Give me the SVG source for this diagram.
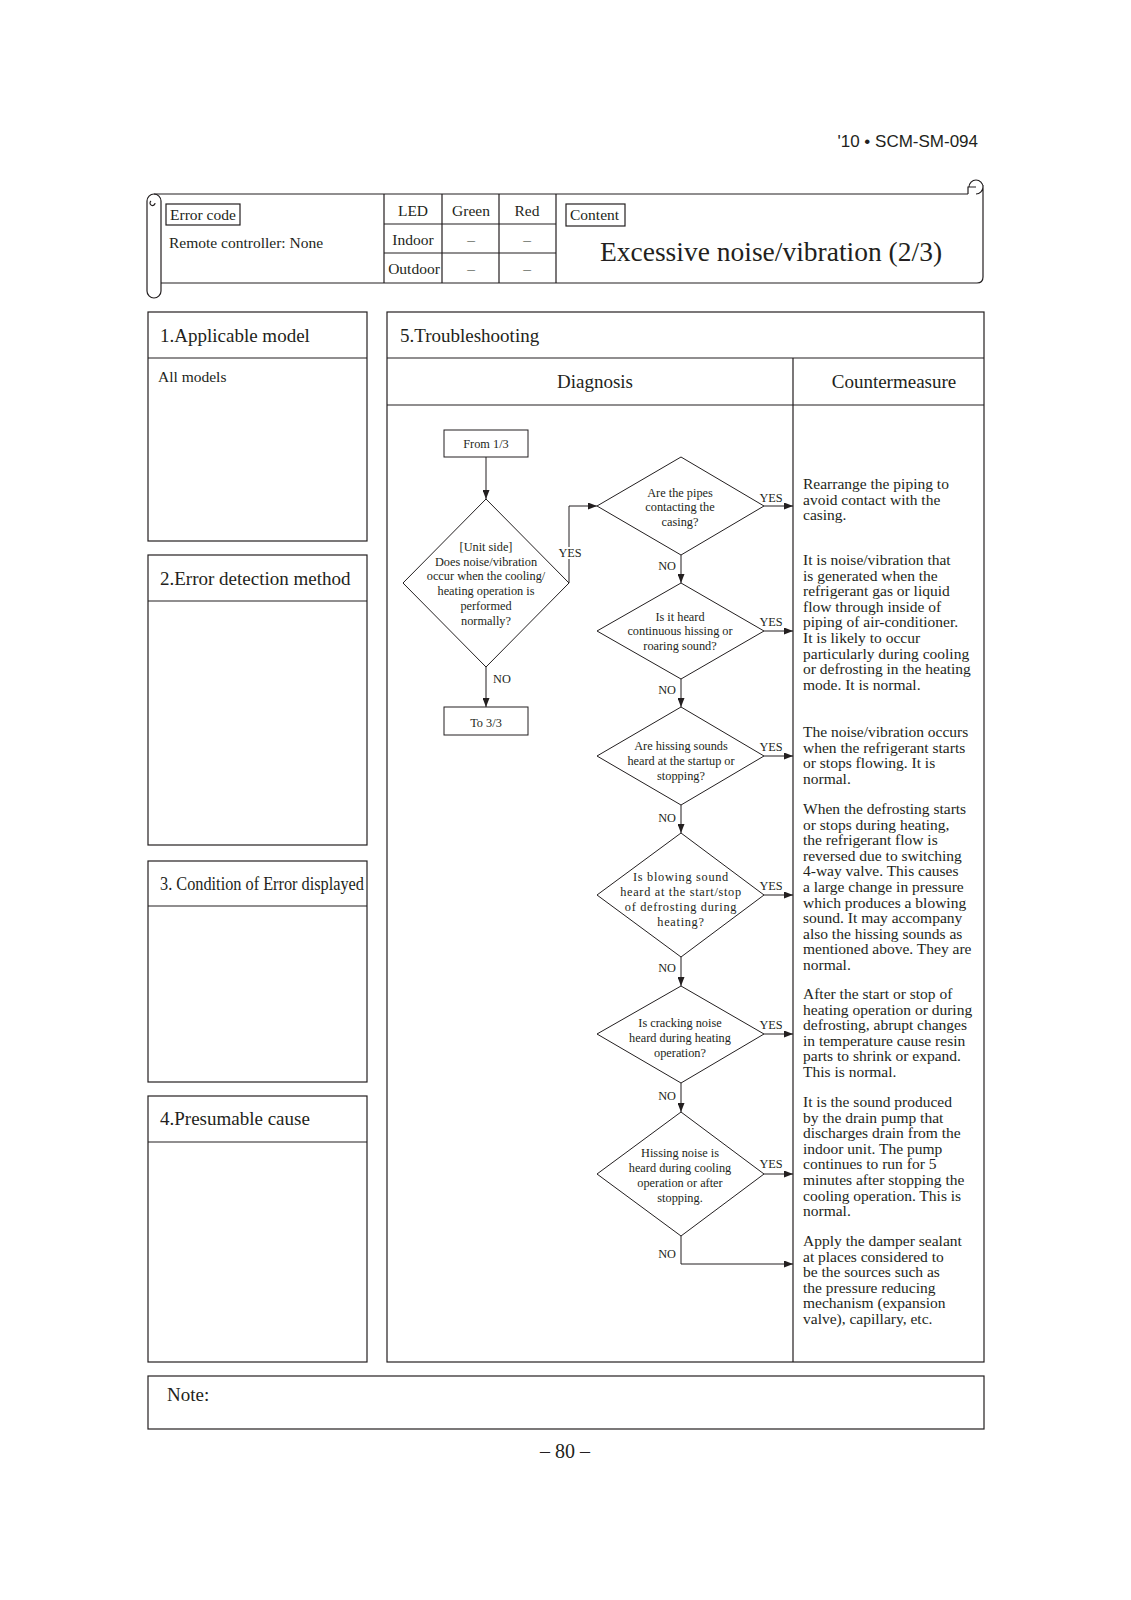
<svg xmlns="http://www.w3.org/2000/svg" width="1131" height="1600" viewBox="0 0 1131 1600">
<style>
.t{font-family:"Liberation Serif","Times New Roman",serif;fill:#231f20}
.s{font-family:"Liberation Sans",Arial,sans-serif;fill:#231f20}
.bx{fill:none;stroke:#231f20;stroke-width:1.2}
.fl{fill:none;stroke:#231f20;stroke-width:1}
.dt{font-size:12.3px;text-anchor:middle}
.cm{font-size:15.5px}
.h{font-size:19px}
.hd{font-size:15.5px}
.mid{text-anchor:middle}
.end{text-anchor:end}
.halo{paint-order:stroke;stroke:#fff;stroke-width:4}
</style>
<defs>
<marker id="ah" markerWidth="9" markerHeight="7" refX="9" refY="3.5" orient="auto" markerUnits="userSpaceOnUse"><path d="M0,0 L9,3.5 L0,7 z" fill="#231f20"/></marker>
</defs>
<rect width="1131" height="1600" fill="#fff"/>
<text class="s" x="978" y="147" font-size="17" text-anchor="end">'10 • SCM-SM-094</text>

<g id="header">
<path class="bx" d="M154 194 H968"/>
<path class="bx" d="M147 201 A7 7 0 0 1 161 201 M147 201 V291 A7 7 0 0 0 161 291 V201"/>
<path class="bx" d="M155 203 A2.5 2.5 0 1 1 151 201" />
<path class="bx" d="M968 194 V187 H976"/>
<path class="bx" d="M976 194 A7 7 0 1 0 969 187 M983 185 V277 Q983 283 977 283 H161"/>
<path class="bx" d="M384 194 V283 M442 194 V283 M499 194 V283 M556 194 V283 M384 224 H556 M384 253 H556"/>
<rect class="bx" x="166" y="204" width="74" height="21"/>
<rect class="bx" x="566" y="204" width="59" height="22"/>
<text class="t hd" x="170" y="220">Error code</text>
<text class="t hd" x="169" y="248">Remote controller:  None</text>
<text class="t hd mid" x="413" y="216">LED</text>
<text class="t hd mid" x="471" y="216">Green</text>
<text class="t hd mid" x="527" y="216">Red</text>
<text class="t hd mid" x="413" y="245">Indoor</text>
<text class="t hd mid" x="471" y="245">–</text>
<text class="t hd mid" x="527" y="245">–</text>
<text class="t hd mid" x="414" y="274">Outdoor</text>
<text class="t hd mid" x="471" y="274">–</text>
<text class="t hd mid" x="527" y="274">–</text>
<text class="t hd" x="570" y="220">Content</text>
<text class="t" x="771" y="261" font-size="27.5" text-anchor="middle">Excessive noise/vibration (2/3)</text>
</g>

<g id="panel1">
<rect class="bx" x="148" y="312" width="219" height="229"/>
<path class="bx" d="M148 358 H367"/>
<text class="t h" x="160" y="342">1.Applicable model</text>
<text class="t hd" x="158" y="382">All models</text>
</g>
<g id="panel2">
<rect class="bx" x="148" y="555" width="219" height="290"/>
<path class="bx" d="M148 601 H367"/>
<text class="t h" x="160" y="585">2.Error detection method</text>
</g>
<g id="panel3">
<rect class="bx" x="148" y="861" width="219" height="221"/>
<path class="bx" d="M148 906 H367"/>
<text class="t h" x="160" y="890" textLength="204" lengthAdjust="spacingAndGlyphs">3. Condition of Error displayed</text>
</g>
<g id="panel4">
<rect class="bx" x="148" y="1096" width="219" height="266"/>
<path class="bx" d="M148 1142 H367"/>
<text class="t h" x="160" y="1125">4.Presumable cause</text>
</g>
<g id="panel5">
<rect class="bx" x="387" y="312" width="597" height="1050"/>
<path class="bx" d="M387 358 H984 M387 405 H984 M793 358 V1362"/>
<text class="t h" x="400" y="342">5.Troubleshooting</text>
<text class="t h mid" x="595" y="388">Diagnosis</text>
<text class="t h mid" x="894" y="388">Countermeasure</text>
</g>
<g id="note">
<rect class="bx" x="148" y="1376" width="836" height="53"/>
<text class="t h" x="167" y="1401">Note:</text>
</g>
<text class="t mid" x="565" y="1458" font-size="20">– 80 –</text>

<g id="n-from">
<rect class="fl" x="444" y="430" width="84" height="27"/>
<text class="t dt" x="486" y="448">From 1/3</text>
</g>
<g id="n-to">
<rect class="fl" x="444" y="707" width="84" height="28"/>
<text class="t dt" x="486" y="727">To 3/3</text>
</g>
<g id="d1">
<polygon class="fl" points="486,499 569,583 486,667 403,583"/>
<text class="t dt"><tspan x="486" y="551">[Unit side]</tspan><tspan x="486" y="566">Does noise/vibration</tspan><tspan x="486" y="580">occur when the cooling/</tspan><tspan x="486" y="595">heating operation is</tspan><tspan x="486" y="610">performed</tspan><tspan x="486" y="625">normally?</tspan></text>
</g>
<g id="d2">
<polygon class="fl" points="681,457 764,506 681,555 597,506"/>
<text class="t dt"><tspan x="680" y="497">Are the pipes</tspan><tspan x="680" y="511">contacting the</tspan><tspan x="680" y="526">casing?</tspan></text>
</g>
<g id="d3">
<polygon class="fl" points="681,583 764,631 681,679 597,631"/>
<text class="t dt"><tspan x="680" y="621">Is it heard</tspan><tspan x="680" y="635">continuous hissing or</tspan><tspan x="680" y="650">roaring sound?</tspan></text>
</g>
<g id="d4">
<polygon class="fl" points="681,707 764,756 681,805 597,756"/>
<text class="t dt"><tspan x="681" y="750">Are hissing sounds</tspan><tspan x="681" y="765">heard at the startup or</tspan><tspan x="681" y="780">stopping?</tspan></text>
</g>
<g id="d5">
<polygon class="fl" points="681,833 764,895 681,957 597,895"/>
<text class="t dt" letter-spacing="0.7"><tspan x="681" y="881">Is blowing sound</tspan><tspan x="681" y="896">heard at the start/stop</tspan><tspan x="681" y="911">of defrosting during</tspan><tspan x="681" y="926">heating?</tspan></text>
</g>
<g id="d6">
<polygon class="fl" points="681,986 764,1034 681,1083 597,1034"/>
<text class="t dt"><tspan x="680" y="1027">Is cracking noise</tspan><tspan x="680" y="1042">heard during heating</tspan><tspan x="680" y="1057">operation?</tspan></text>
</g>
<g id="d7">
<polygon class="fl" points="681,1112 764,1174 681,1236 597,1174"/>
<text class="t dt"><tspan x="680" y="1157">Hissing noise is</tspan><tspan x="680" y="1172">heard during cooling</tspan><tspan x="680" y="1187">operation or after</tspan><tspan x="680" y="1202">stopping.</tspan></text>
</g>

<g id="connectors">
<path class="fl" marker-end="url(#ah)" d="M486 457 V499"/>
<path class="fl" marker-end="url(#ah)" d="M569 583 V506 H597"/>
<path class="fl" marker-end="url(#ah)" d="M486 667 V707"/>
<path class="fl" marker-end="url(#ah)" d="M681 555 V583"/>
<path class="fl" marker-end="url(#ah)" d="M681 679 V707"/>
<path class="fl" marker-end="url(#ah)" d="M681 805 V833"/>
<path class="fl" marker-end="url(#ah)" d="M681 957 V986"/>
<path class="fl" marker-end="url(#ah)" d="M681 1083 V1112"/>
<path class="fl" marker-end="url(#ah)" d="M681 1236 V1264 H793"/>
<path class="fl" marker-end="url(#ah)" d="M764 506 H793"/>
<path class="fl" marker-end="url(#ah)" d="M764 631 H793"/>
<path class="fl" marker-end="url(#ah)" d="M764 756 H793"/>
<path class="fl" marker-end="url(#ah)" d="M764 895 H793"/>
<path class="fl" marker-end="url(#ah)" d="M764 1034 H793"/>
<path class="fl" marker-end="url(#ah)" d="M764 1174 H793"/>
<text class="t dt halo" x="570" y="557">YES</text>
<text class="t dt" x="502" y="683">NO</text>
<text class="t dt end" x="676" y="570">NO</text>
<text class="t dt end" x="676" y="694">NO</text>
<text class="t dt end" x="676" y="822">NO</text>
<text class="t dt end" x="676" y="972">NO</text>
<text class="t dt end" x="676" y="1100">NO</text>
<text class="t dt end" x="676" y="1258">NO</text>
<text class="t dt" x="771" y="502">YES</text>
<text class="t dt" x="771" y="626">YES</text>
<text class="t dt" x="771" y="751">YES</text>
<text class="t dt" x="771" y="890">YES</text>
<text class="t dt" x="771" y="1029">YES</text>
<text class="t dt" x="771" y="1168">YES</text>
</g>

<g id="countermeasures">
<text class="t cm"><tspan x="803" y="489">Rearrange the piping to</tspan><tspan x="803" y="504.6">avoid contact with the</tspan><tspan x="803" y="520.2">casing.</tspan></text>
<text class="t cm"><tspan x="803" y="565">It is noise/vibration that</tspan><tspan x="803" y="580.6">is generated when the</tspan><tspan x="803" y="596.2">refrigerant gas or liquid</tspan><tspan x="803" y="611.8">flow through inside of</tspan><tspan x="803" y="627.4">piping of air-conditioner.</tspan><tspan x="803" y="643">It is likely to occur</tspan><tspan x="803" y="658.6">particularly during cooling</tspan><tspan x="803" y="674.2">or defrosting in the heating</tspan><tspan x="803" y="689.8">mode. It is normal.</tspan></text>
<text class="t cm"><tspan x="803" y="737">The noise/vibration occurs</tspan><tspan x="803" y="752.6">when the refrigerant starts</tspan><tspan x="803" y="768.2">or stops flowing. It is</tspan><tspan x="803" y="783.8">normal.</tspan></text>
<text class="t cm"><tspan x="803" y="814">When the defrosting starts</tspan><tspan x="803" y="829.6">or stops during heating,</tspan><tspan x="803" y="845.2">the refrigerant flow is</tspan><tspan x="803" y="860.8">reversed due to switching</tspan><tspan x="803" y="876.4">4-way valve. This causes</tspan><tspan x="803" y="892">a large change in pressure</tspan><tspan x="803" y="907.6">which produces a blowing</tspan><tspan x="803" y="923.2">sound. It may accompany</tspan><tspan x="803" y="938.8">also the hissing sounds as</tspan><tspan x="803" y="954.4">mentioned above. They are</tspan><tspan x="803" y="970">normal.</tspan></text>
<text class="t cm"><tspan x="803" y="999">After the start or stop of</tspan><tspan x="803" y="1014.6">heating operation or during</tspan><tspan x="803" y="1030.2">defrosting, abrupt changes</tspan><tspan x="803" y="1045.8">in temperature cause resin</tspan><tspan x="803" y="1061.4">parts to shrink or expand.</tspan><tspan x="803" y="1077">This is normal.</tspan></text>
<text class="t cm"><tspan x="803" y="1107">It is the sound produced</tspan><tspan x="803" y="1122.6">by the drain pump that</tspan><tspan x="803" y="1138.2">discharges drain from the</tspan><tspan x="803" y="1153.8">indoor unit. The pump</tspan><tspan x="803" y="1169.4">continues to run for 5</tspan><tspan x="803" y="1185">minutes after stopping the</tspan><tspan x="803" y="1200.6">cooling operation. This is</tspan><tspan x="803" y="1216.2">normal.</tspan></text>
<text class="t cm"><tspan x="803" y="1246">Apply the damper sealant</tspan><tspan x="803" y="1261.6">at places considered to</tspan><tspan x="803" y="1277.2">be the sources such as</tspan><tspan x="803" y="1292.8">the pressure reducing</tspan><tspan x="803" y="1308.4">mechanism (expansion</tspan><tspan x="803" y="1324">valve), capillary, etc.</tspan></text>
</g>
</svg>
